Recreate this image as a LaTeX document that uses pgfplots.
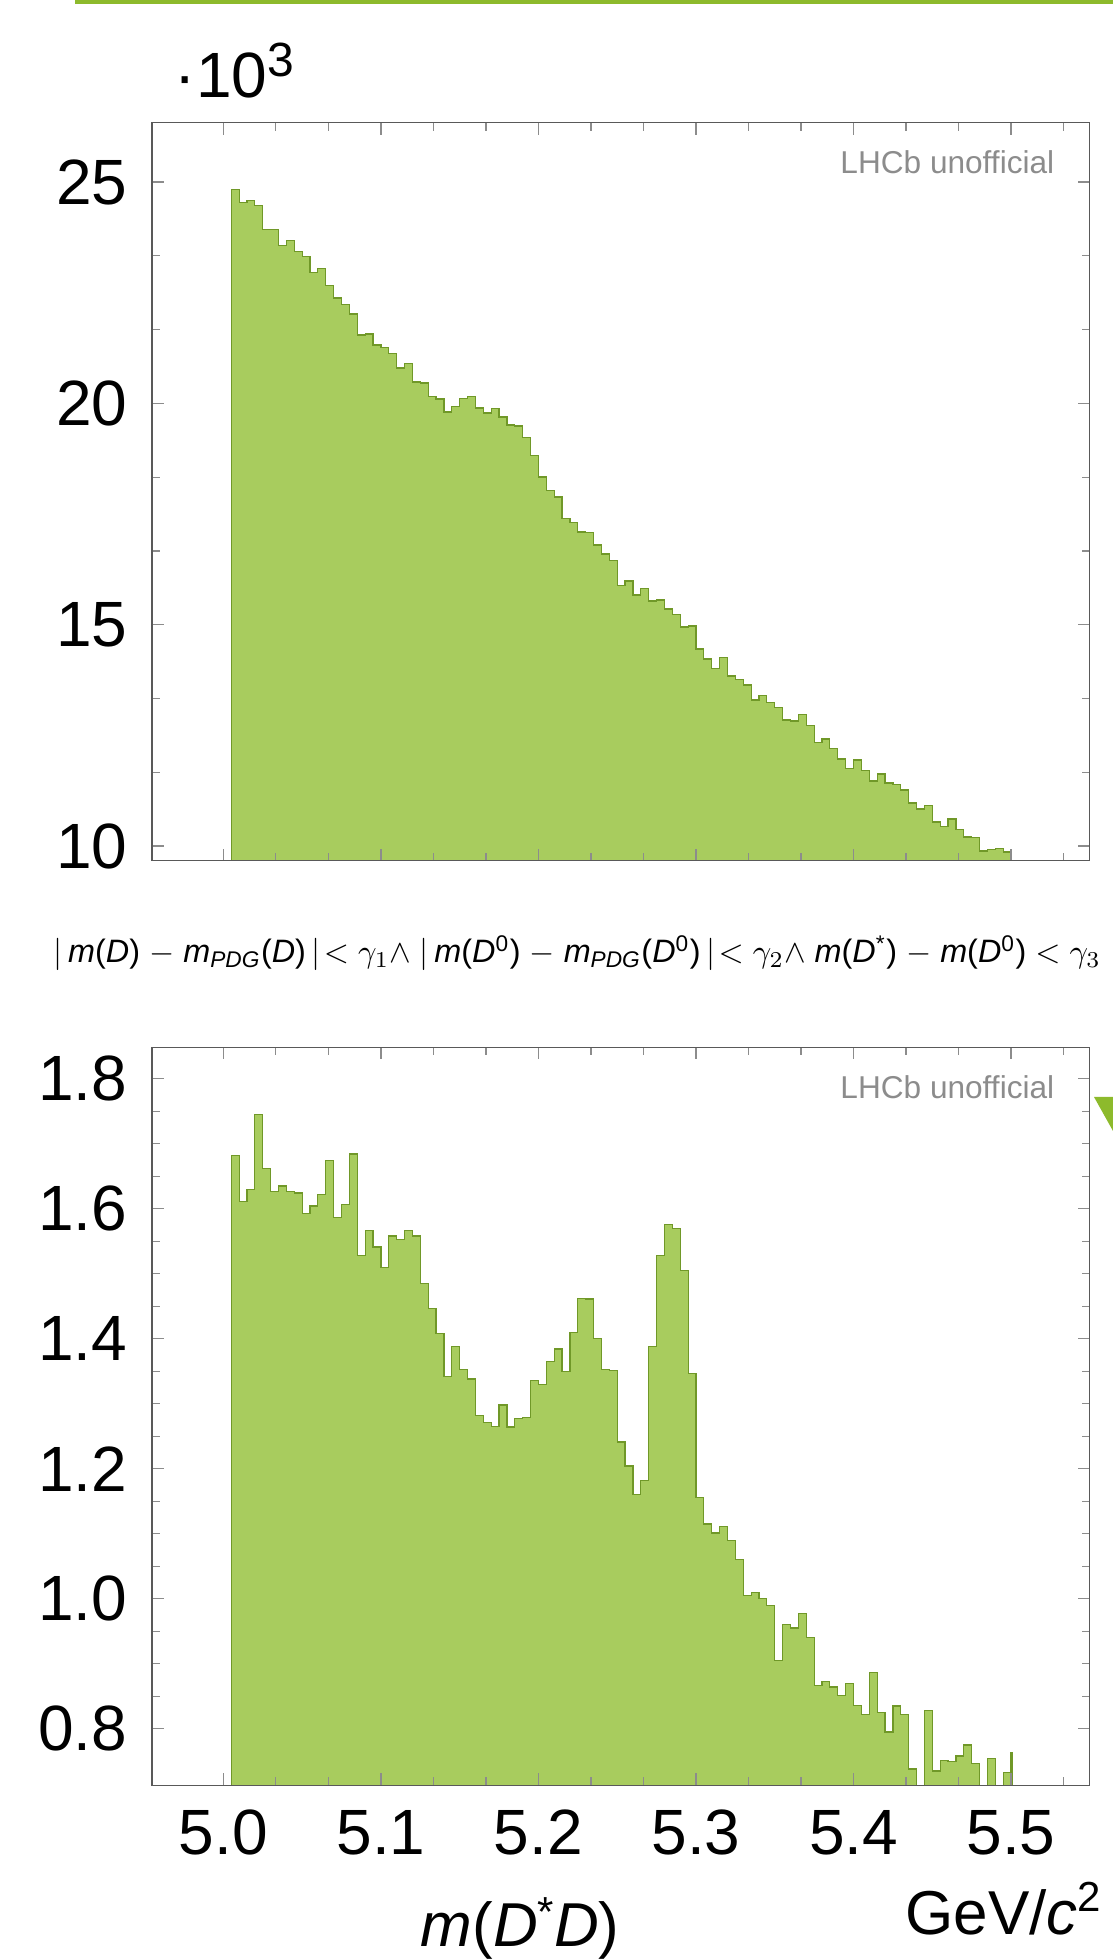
\documentclass[border=0pt]{standalone}
\usepackage{fontspec}
\setmainfont{Liberation Sans}
\usepackage{graphicx}
\usepackage{pgfplots}
\pgfplotsset{compat=1.18}
\definecolor{histfill}{RGB}{168,204,94}
\definecolor{histedge}{RGB}{112,152,40}
\definecolor{slidegreen}{RGB}{141,186,44}
\pgfplotsset{
  histaxis/.style={
    scale only axis,
    width=234.375pt,
    height=184.5pt,
    xmin=4.9547, xmax=5.5498,
    axis on top,
    axis line style={black!65, line width=0.35pt},
    tick style={black!45, line width=0.3pt},
    major tick length=3pt, minor tick length=2pt,
    tick align=inside,
    xtick={5.0,5.1,5.2,5.3,5.4,5.5},
    minor xtick={5.03333,5.06667,5.13333,5.16667,5.23333,5.26667,5.33333,5.36667,5.43333,5.46667,5.53333},
    tick label style={font=\fontsize{16}{16}\selectfont},
    /pgf/number format/assume math mode=true,
    yticklabel style={anchor=east, inner sep=0pt, xshift=-6pt},
    xticklabel style={anchor=north, inner sep=0pt, yshift=-6pt,
      /pgf/number format/.cd, fixed, fixed zerofill, precision=1},
  },
  histplot/.style={const plot, fill=histfill, draw=histedge, line width=0.3pt},
}
\begin{document}
\begin{tikzpicture}
\useasboundingbox (0pt,0pt) rectangle (278.25pt,489.75pt);
% slide decorations
\fill[slidegreen] (18.75pt,489.75pt) rectangle (278.25pt,488.625pt);
\fill[slidegreen] (273.5pt,215.5pt) -- (278.25pt,215.5pt) -- (278.25pt,207pt) -- cycle;

% ---------------- top histogram ----------------
\begin{axis}[histaxis,
  at={(38pt,274.575pt)}, anchor=south west,
  ymin=9.669, ymax=26.34,
  ytick={10,15,20,25},
  minor ytick={11.6667,13.3333,16.6667,18.3333,21.6667,23.3333},
  xticklabels={},
]
\addplot[histplot] coordinates {
(5.005,24.835)(5.010,24.532)(5.015,24.587)(5.020,24.474)(5.025,23.932)(5.030,23.923)(5.035,23.570)(5.040,23.674)(5.045,23.435)(5.050,23.322)
(5.055,22.951)(5.060,23.051)(5.065,22.658)(5.070,22.380)(5.075,22.228)(5.080,22.018)(5.085,21.544)(5.090,21.567)(5.095,21.318)(5.100,21.266)
(5.105,21.131)(5.110,20.799)(5.115,20.905)(5.120,20.482)(5.125,20.460)(5.130,20.159)(5.135,20.098)(5.140,19.805)(5.145,19.933)(5.150,20.114)
(5.155,20.159)(5.160,19.895)(5.165,19.782)(5.170,19.888)(5.175,19.692)(5.180,19.511)(5.185,19.488)(5.190,19.224)(5.195,18.827)(5.200,18.336)
(5.205,18.027)(5.210,17.885)(5.215,17.403)(5.220,17.304)(5.225,17.094)(5.230,17.087)(5.235,16.800)(5.240,16.597)(5.245,16.446)(5.250,15.881)
(5.255,15.987)(5.260,15.671)(5.265,15.822)(5.270,15.535)(5.275,15.558)(5.280,15.355)(5.285,15.226)(5.290,14.948)(5.295,14.971)(5.300,14.451)
(5.305,14.226)(5.310,14.006)(5.315,14.264)(5.320,13.841)(5.325,13.767)(5.330,13.638)(5.335,13.299)(5.340,13.405)(5.345,13.247)(5.350,13.134)
(5.355,12.847)(5.360,12.825)(5.365,12.976)(5.370,12.728)(5.375,12.335)(5.380,12.418)(5.385,12.208)(5.390,11.966)(5.395,11.756)(5.400,11.944)
(5.405,11.711)(5.410,11.470)(5.415,11.628)(5.420,11.425)(5.425,11.395)(5.430,11.266)(5.435,10.973)(5.440,10.837)(5.445,10.920)(5.450,10.543)
(5.455,10.446)(5.460,10.611)(5.465,10.378)(5.470,10.204)(5.475,10.188)(5.480,9.888)(5.485,9.918)(5.490,9.949)(5.495,9.865)(5.500,9.865)
} \closedcycle;
\end{axis}
\node[anchor=base west, inner sep=0pt, font=\fontsize{16}{16}\selectfont] at (43.5pt,465.25pt)
  {·10\raisebox{5.25pt}{\fontsize{12}{12}\selectfont 3}};
\node[anchor=base east, inner sep=0pt, text=black!45, font=\fontsize{7.9}{8}\selectfont] at (263.75pt,446.25pt) {LHCb unofficial};

% ---------------- selection text ----------------
\node[anchor=base west, inner sep=0pt] at (13.25pt,249pt) {\resizebox{261.75pt}{!}{%
$|$\,\textit{m}(\textit{D}) $-$ \textit{m}\textsubscript{\textit{PDG}}(\textit{D})\,$|\!<\gamma_1 \wedge$ $|$\,\textit{m}(\textit{D}\textsuperscript{0}) $-$ \textit{m}\textsubscript{\textit{PDG}}(\textit{D}\textsuperscript{0})\,$|\!<\gamma_2 \wedge$ \textit{m}(\textit{D}\textsuperscript{*}) $-$ \textit{m}(\textit{D}\textsuperscript{0}) $<\gamma_3$}};

% ---------------- bottom histogram ----------------
\begin{axis}[histaxis,
  at={(38pt,43.425pt)}, anchor=south west,
  ymin=0.7129, ymax=1.8483,
  ytick={0.8,1.0,1.2,1.4,1.6,1.8},
  minor ytick={0.85,0.9,0.95,1.05,1.1,1.15,1.25,1.3,1.35,1.45,1.5,1.55,1.65,1.7,1.75},
  yticklabel style={/pgf/number format/.cd, fixed, fixed zerofill, precision=1},
]
\addplot[histplot] coordinates {
(5.005,1.682)(5.010,1.611)(5.015,1.629)(5.020,1.745)(5.025,1.662)(5.030,1.627)(5.035,1.635)(5.040,1.626)(5.045,1.624)(5.050,1.593)
(5.055,1.604)(5.060,1.622)(5.065,1.674)(5.070,1.587)(5.075,1.606)(5.080,1.684)(5.085,1.528)(5.090,1.567)(5.095,1.541)(5.100,1.510)
(5.105,1.558)(5.110,1.552)(5.115,1.567)(5.120,1.558)(5.125,1.485)(5.130,1.447)(5.135,1.408)(5.140,1.342)(5.145,1.388)(5.150,1.352)
(5.155,1.338)(5.160,1.282)(5.165,1.271)(5.170,1.265)(5.175,1.298)(5.180,1.264)(5.185,1.277)(5.190,1.279)(5.195,1.336)(5.200,1.330)
(5.205,1.365)(5.210,1.384)(5.215,1.350)(5.220,1.409)(5.225,1.462)(5.230,1.461)(5.235,1.400)(5.240,1.352)(5.245,1.351)(5.250,1.241)
(5.255,1.204)(5.260,1.160)(5.265,1.182)(5.270,1.388)(5.275,1.528)(5.280,1.576)(5.285,1.570)(5.290,1.505)(5.295,1.346)(5.300,1.156)
(5.305,1.115)(5.310,1.101)(5.315,1.111)(5.320,1.090)(5.325,1.060)(5.330,1.005)(5.335,1.010)(5.340,1.000)(5.345,0.990)(5.350,0.905)
(5.355,0.960)(5.360,0.955)(5.365,0.977)(5.370,0.940)(5.375,0.867)(5.380,0.872)(5.385,0.864)(5.390,0.851)(5.395,0.870)(5.400,0.836)
(5.405,0.822)(5.410,0.886)(5.415,0.825)(5.420,0.795)(5.425,0.835)(5.430,0.822)(5.435,0.738)(5.440,0.700)(5.445,0.828)(5.450,0.735)
(5.455,0.751)(5.460,0.749)(5.465,0.758)(5.470,0.775)(5.475,0.747)(5.480,0.700)(5.485,0.754)(5.490,0.700)(5.495,0.732)(5.500,0.763)
(5.5006,0.763)
} \closedcycle;
\end{axis}
\node[anchor=base east, inner sep=0pt, text=black!45, font=\fontsize{7.9}{8}\selectfont] at (263.75pt,215.125pt) {LHCb unofficial};

% axis labels
\node[anchor=base west, inner sep=0pt, font=\fontsize{15.5}{16}\selectfont] at (105pt,3.1pt)
  {\textit{m}(\textit{D}\raisebox{5pt}{\fontsize{10.5}{11}\selectfont *}\textit{D})};
\node[anchor=base east, inner sep=0pt, font=\fontsize{15.5}{16}\selectfont] at (275.5pt,6pt)
  {GeV/\textit{c}\raisebox{6pt}{\fontsize{10.5}{11}\selectfont 2}};
\end{tikzpicture}
\end{document}
